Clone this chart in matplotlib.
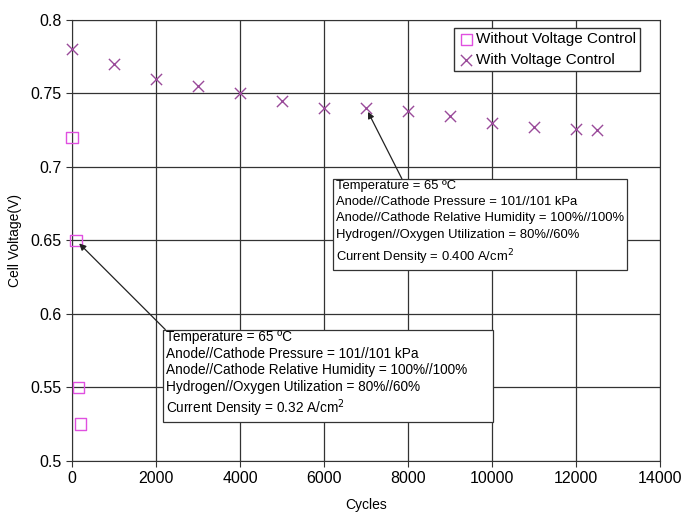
import matplotlib.pyplot as plt

plt.rcParams['font.family'] = ['Liberation Sans', 'DejaVu Sans']

cycles_without = [0, 100, 150, 200]
voltage_without = [0.72, 0.65, 0.55, 0.525]

cycles_with = [0, 1000, 2000, 3000, 4000, 5000, 6000, 7000, 8000, 9000,
               10000, 11000, 12000, 12500]
voltage_with = [0.78, 0.77, 0.76, 0.755, 0.75, 0.745, 0.74, 0.74, 0.738,
                0.735, 0.73, 0.727, 0.726, 0.725]

note_with = ("Temperature = 65 ºC\n"
             "Anode//Cathode Pressure = 101//101 kPa\n"
             "Anode//Cathode Relative Humidity = 100%//100%\n"
             "Hydrogen//Oxygen Utilization = 80%//60%\n"
             "Current Density = 0.400 A/cm$^2$")
note_without = ("Temperature = 65 ºC\n"
                "Anode//Cathode Pressure = 101//101 kPa\n"
                "Anode//Cathode Relative Humidity = 100%//100%      \n"
                "Hydrogen//Oxygen Utilization = 80%//60%\n"
                "Current Density = 0.32 A/cm$^2$")

fig = plt.figure(figsize=(6.82, 5.12), dpi=100)
ax = fig.add_axes([0.1056, 0.0996, 0.8624, 0.8614])

ax.scatter(cycles_without, voltage_without, marker='s', s=70, facecolors='none',
           edgecolors='#e050e0', linewidths=1.0, label='Without Voltage Control',
           zorder=3, clip_on=False)
ax.scatter(cycles_with, voltage_with, marker='x', s=65, color='#9a4a9a',
           linewidths=1.0, label='With Voltage Control', zorder=3, clip_on=False)

ax.set_xlim(0, 14000)
ax.set_ylim(0.5, 0.8)
ax.set_xticks(range(0, 14001, 2000))
ax.set_yticks([0.5, 0.55, 0.6, 0.65, 0.7, 0.75, 0.8])
ax.set_yticklabels(['0.5', '0.55', '0.6', '0.65', '0.7', '0.75', '0.8'])
ax.grid(True, color='#333333', linewidth=0.9)
ax.set_axisbelow(True)
for s in ax.spines.values():
    s.set_color('#333333')
ax.tick_params(labelsize=11.5, length=4, direction='out', color='#333333')
ax.set_xlabel('Cycles', fontsize=10, labelpad=8)
ax.set_ylabel('Cell Voltage(V)', fontsize=10, labelpad=6)

box = dict(boxstyle='square,pad=0.25', fc='white', ec='#333333', lw=0.9)
ax.annotate(note_with, xy=(7000, 0.74), xytext=(0.449, 0.440), textcoords='axes fraction',
            fontsize=9.4, linespacing=1.48, va='bottom', ha='left', bbox=box,
            arrowprops=dict(arrowstyle='-|>', color='#222222', lw=0.9,
                            shrinkA=0, shrinkB=3, relpos=(0.23, 1.0)))
ax.annotate(note_without, xy=(100, 0.65), xytext=(0.160, 0.096), textcoords='axes fraction',
            fontsize=9.8, linespacing=1.22, va='bottom', ha='left', bbox=box,
            arrowprops=dict(arrowstyle='-|>', color='#222222', lw=0.9,
                            shrinkA=0, shrinkB=3, relpos=(0.0, 1.0)))

ax.legend(loc='upper right', bbox_to_anchor=(0.966, 0.982), fontsize=11, frameon=True,
          fancybox=False, edgecolor='#333333', framealpha=1, handletextpad=0.1,
          borderpad=0.3, labelspacing=0.4, handlelength=1.0, borderaxespad=0)

fig.savefig('out.png', dpi=100)
